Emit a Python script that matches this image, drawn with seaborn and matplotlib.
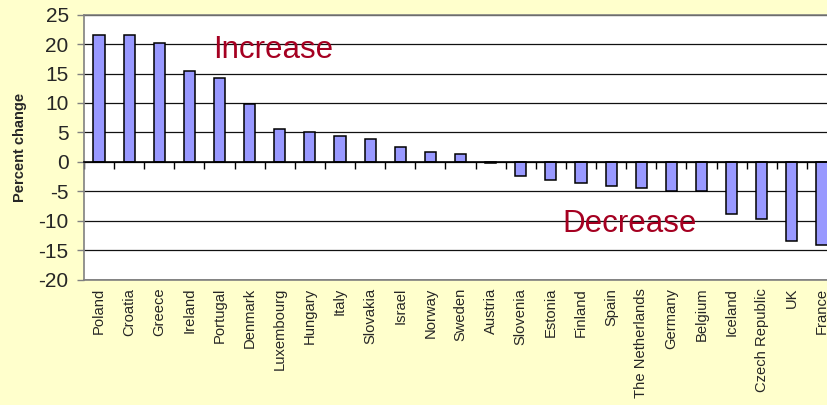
import matplotlib
matplotlib.use('Agg')
import matplotlib.pyplot as plt
from matplotlib.ticker import MultipleLocator, FixedLocator
import seaborn as sns

countries = ['Poland', 'Croatia', 'Greece', 'Ireland', 'Portugal', 'Denmark',
             'Luxembourg', 'Hungary', 'Italy', 'Slovakia', 'Israel', 'Norway',
             'Sweden', 'Austria', 'Slovenia', 'Estonia', 'Finland', 'Spain',
             'The Netherlands', 'Germany', 'Belgium', 'Iceland',
             'Czech Republic', 'UK', 'France']
pct_change = [21.6, 21.6, 20.2, 15.4, 14.2, 9.9, 5.6, 5.1, 4.4, 3.9, 2.5, 1.7,
              1.4, -0.2, -2.4, -3.1, -3.6, -4.1, -4.5, -5.0, -5.0, -8.9,
              -9.8, -13.4, -14.1]

sns.set_style('white')
plt.rcParams['font.family'] = ['Liberation Sans', 'DejaVu Sans']
plt.rcParams['axes.unicode_minus'] = False

fig = plt.figure(figsize=(8.28, 4.05), dpi=100, facecolor='#FFFFCC')
ax = fig.add_axes([84 / 828, 1 - 279.5 / 405, 753 / 828, 264.8 / 405])
ax.set_facecolor('white')

sns.barplot(x=countries, y=pct_change, color='#9999FF', saturation=1,
            edgecolor='black', linewidth=1.1, width=0.37, ax=ax)

ax.set_xlim(-0.5, len(countries) - 0.5)
ax.set_ylim(-20, 25)
ax.yaxis.set_major_locator(MultipleLocator(5))
ax.grid(axis='y', color='#111111', linewidth=0.9)
ax.set_axisbelow(True)

# spines: gray frame, x axis at zero
for side in ['top', 'left']:
    ax.spines[side].set_color('#808080')
    ax.spines[side].set_linewidth(1.2)
ax.spines['right'].set_visible(False)
ax.spines['bottom'].set_position(('data', 0))
ax.spines['bottom'].set_color('black')
ax.spines['bottom'].set_linewidth(1.2)

ax.tick_params(axis='y', direction='out', length=5, width=1, color='#808080',
               labelsize=15, pad=6, left=True)
ax.xaxis.set_minor_locator(FixedLocator([i - 0.5 for i in range(len(countries) + 1)]))
ax.tick_params(axis='x', which='minor', direction='out', length=5, width=1,
               color='black', bottom=True)
ax.tick_params(axis='x', which='major', length=0, labelbottom=False)
ax.set_xlabel('')
ax.set_ylabel('Percent change', fontsize=10.5, fontweight='bold', labelpad=8)

# category labels along the bottom of the plot
sec = ax.secondary_xaxis(0)
sec.set_xticks(range(len(countries)))
sec.set_xticklabels(countries, rotation=90, fontsize=10.6)
sec.tick_params(length=0, pad=6)
sec.spines['bottom'].set_color('#808080')
sec.spines['bottom'].set_linewidth(1.2)

ax.text(5.77, 19.0, 'Increase', color='#A50021', fontsize=22.5, ha='center', va='center')
ax.text(17.6, -10.6, 'Decrease', color='#A50021', fontsize=22.5, ha='center', va='center')

fig.savefig('out.png', dpi=100, facecolor=fig.get_facecolor())
